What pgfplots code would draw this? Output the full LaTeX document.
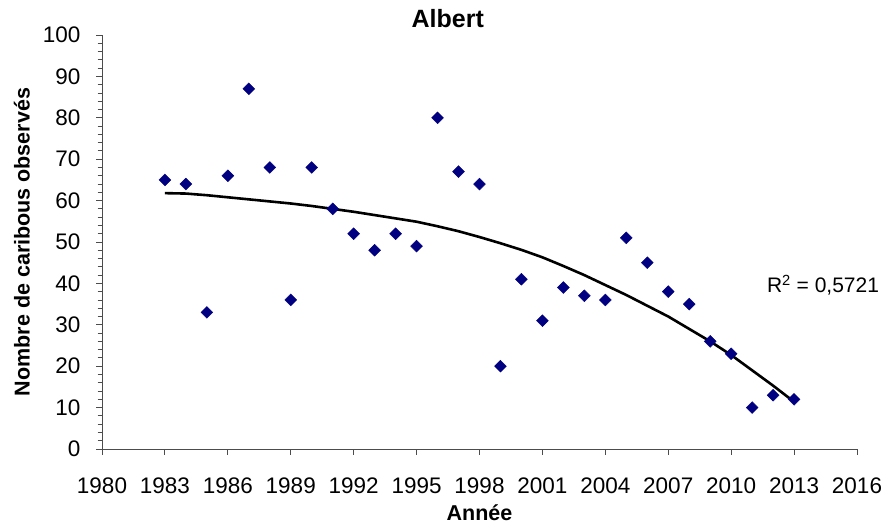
\documentclass[border=0pt]{standalone}
\usepackage{pgfplots}
\pgfplotsset{compat=1.18}
\usepackage{fontspec}
\setmainfont{Liberation Sans}
\definecolor{navyx}{RGB}{0,0,128}
\begin{document}
\begin{tikzpicture}
\useasboundingbox (-102pt,-78pt) rectangle (784pt,449pt);
\begin{axis}[
  at={(0pt,0pt)}, anchor=south west,
  scale only axis,
  width=755pt, height=414pt,
  xmin=1980, xmax=2016, ymin=0, ymax=100,
  xtick={1980,1983,...,2016},
  ytick={0,10,...,100},
  minor y tick num=4,
  axis lines*=left,
  tick align=outside,
  major tick length=6pt,
  minor tick length=4.5pt,
  tick style={gray!60!black, line width=0.9pt},
  axis line style={gray!60!black, line width=0.9pt},
  /pgf/number format/assume math mode=true,
  /pgf/number format/1000 sep={},
  tick label style={font=\fontsize{22.5}{26}\selectfont, black},
  xticklabel style={yshift=-19pt},
  yticklabel style={xshift=-12pt},
  xlabel={\textbf{Année}},
  ylabel={\textbf{Nombre de caribous observés}},
  label style={font=\fontsize{21.5}{25}\selectfont},
  xlabel style={at={(axis description cs:0.5,-0.155)}, anchor=center},
  ylabel style={at={(axis description cs:-0.106,0.5)}, anchor=center},
  clip=false,
]
\addplot[only marks, mark=square*, mark size=4.2pt, mark options={rotate=45, fill=navyx, draw=navyx}] coordinates {
(1983,65) (1984,64) (1985,33) (1986,66) (1987,87) (1988,68) (1989,36) (1990,68)
(1991,58) (1992,52) (1993,48) (1994,52) (1995,49) (1996,80) (1997,67) (1998,64)
(1999,20) (2000,41) (2001,31) (2002,39) (2003,37) (2004,36) (2005,51) (2006,45)
(2007,38) (2008,35) (2009,26) (2010,23) (2011,10) (2012,13) (2013,12)
};
\addplot[black, line width=2.6pt, no marks] coordinates {
(1983,61.8) (1984,61.7) (1985,61.3) (1986,60.8) (1987,60.3) (1988,59.8) (1989,59.3)
(1990,58.7) (1991,58.0) (1992,57.3) (1993,56.5) (1994,55.7) (1995,54.9) (1996,53.8)
(1997,52.6) (1998,51.2) (1999,49.7) (2000,48.1) (2001,46.3) (2002,44.2) (2003,42.0)
(2004,39.6) (2005,37.2) (2006,34.6) (2007,32.0) (2008,29.0) (2009,26.0) (2010,22.7)
(2011,19.0) (2012,15.3) (2013,11.4)
};
\node[anchor=west, inner sep=0pt, font=\fontsize{21}{25}\selectfont] at (axis cs:2011.7,39.6) {R\textsuperscript{2} = 0,5721};
\node[font=\bfseries\fontsize{25}{30}\selectfont] at (rel axis cs:0.458,1.0386) {Albert};
\end{axis}
\end{tikzpicture}
\end{document}
